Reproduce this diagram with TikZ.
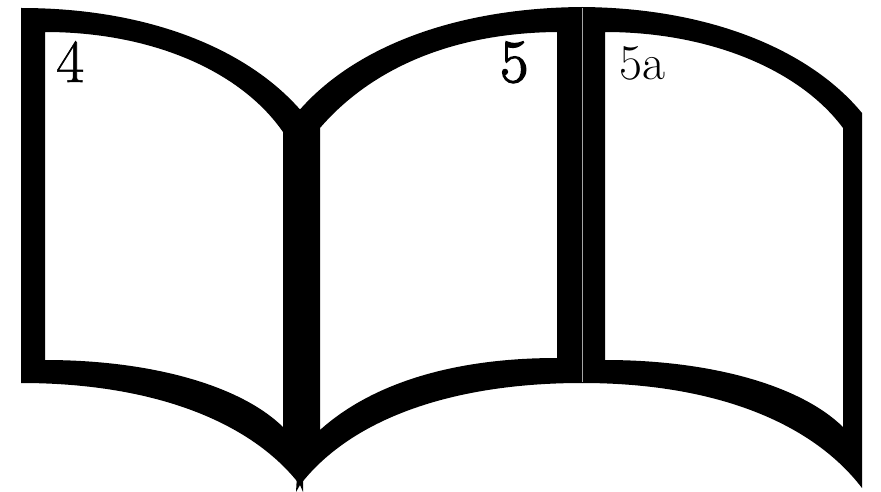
\documentclass[tikz,border=0pt]{standalone}
\usepackage{fontspec}
\usepackage{tikz}
\newfontfamily\numfont{Latin Modern Roman}[FakeBold=1]
\newfontfamily\heavynumfont{Latin Modern Roman}[FakeBold=2.5]

\begin{document}
\begin{tikzpicture}[x=1pt, y=-1pt,
    leaf/.style={fill=black, even odd rule},
    pagenum/.style={anchor=base west, inner sep=0pt, font=\fontsize{61}{61}\selectfont}]
        \useasboundingbox (0,0) rectangle (881,492);

        % Page 4
        \path[leaf] (21,8) .. controls (150,8) and (250,50) .. (303,113)
            -- (303,475) -- (303,492) -- (300,485)
            .. controls (250,420) and (150,383) .. (21,383) -- cycle
            (45,32) .. controls (150,32) and (240,70) .. (283,132)
            -- (283,427) .. controls (240,385) and (150,360) .. (45,360) -- cycle;

        % Page 5
        \path[leaf] (297,113) .. controls (350,50) and (450,8) .. (582,7)
            -- (582,383) .. controls (450,383) and (350,420) .. (300,485)
            -- (296,492) -- (297,475) -- cycle
            (320,128) .. controls (370,70) and (450,33) .. (557,32)
            -- (557,358) .. controls (450,358) and (370,385) .. (320,430) -- cycle;

        % Page 5a
        \path[leaf] (582,7) .. controls (710,8) and (810,50) .. (862,113)
            -- (862,488) .. controls (810,420) and (710,383) .. (582,383) -- cycle
            (605,32) .. controls (710,32) and (800,70) .. (843,128)
            -- (843,427) .. controls (800,385) and (710,360) .. (605,360) -- cycle;

        % Fold between 5 and 5a
        \draw[gray!70, line width=0.6pt] (582,8) -- (582,382);

        % Page numbers
        \node[pagenum] (num4) at (56,82) {\numfont 4};
        \node[pagenum] (num5) at (500,82) {\heavynumfont 5};
        \node[pagenum, font=\fontsize{50}{50}\selectfont] (num5a) at (619,80) {5a};
    \end{tikzpicture}
\end{document}
